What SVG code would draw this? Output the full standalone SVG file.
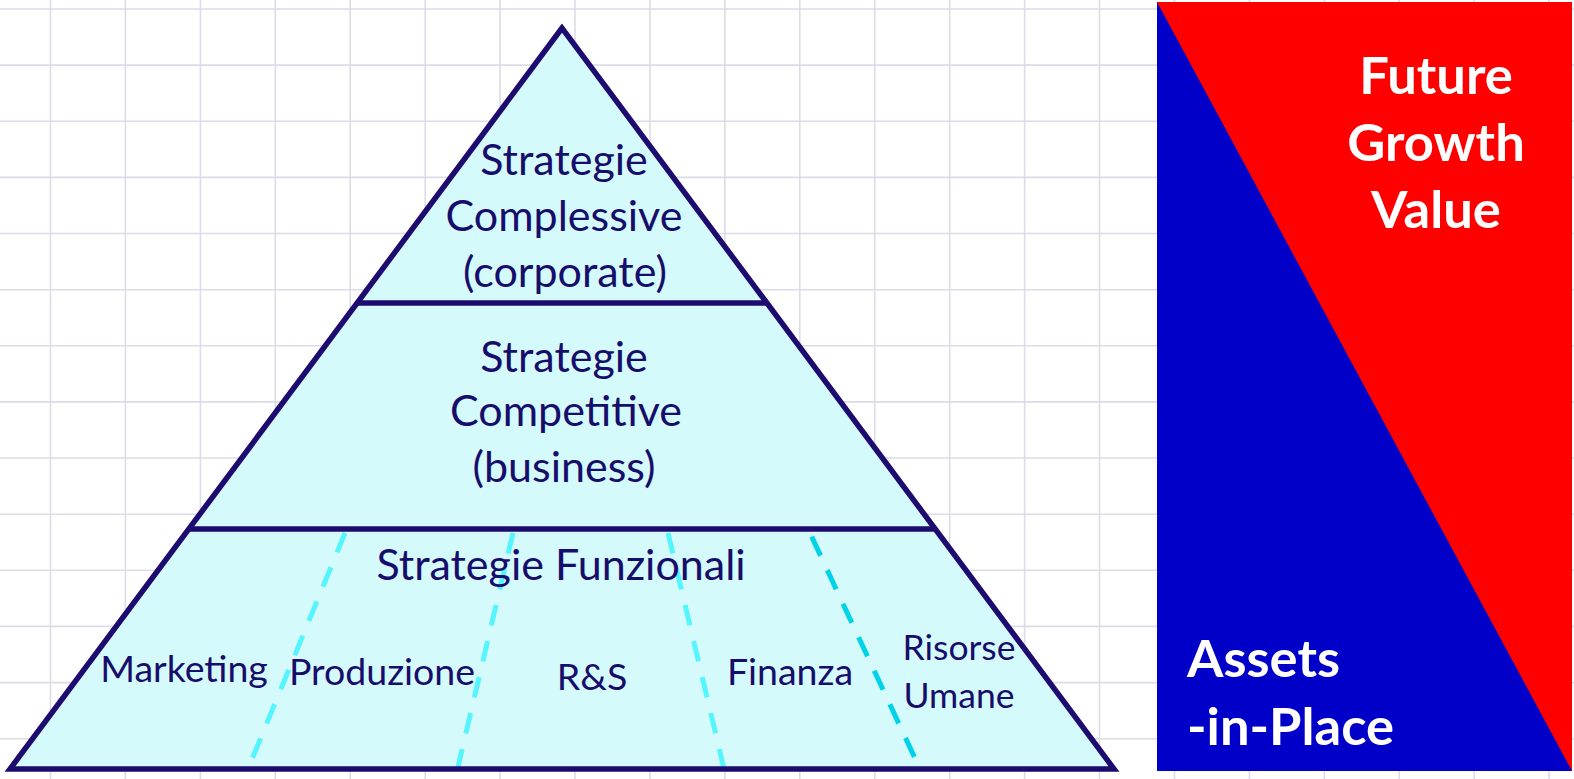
<svg xmlns="http://www.w3.org/2000/svg" width="1574" height="779" viewBox="0 0 1574 779">
<style>
.grid{stroke:#dcdce8;stroke-width:1.6;fill:none}
.tier{fill:#d5fafb;stroke:none}
.edge{stroke:#1e0b70;stroke-width:5.5;fill:none;stroke-linejoin:miter}
.lbl{font-family:Lato,"Liberation Sans",sans-serif;fill:#170d6b;text-anchor:middle}
.big{font-size:43px}
.mid{font-size:37.5px}
.sm{font-size:35.5px}
.dash{stroke-width:5;stroke-dasharray:21 16;fill:none}
.wt{font-family:Lato,"Liberation Sans",sans-serif;font-weight:bold;fill:#ffffff;font-size:52.5px}
</style>
<rect x="0" y="0" width="1574" height="779" fill="#ffffff"/>
<g id="grid">
<path class="grid" d="M50.5 0V779M125.4 0V779M200.4 0V779M275.3 0V779M350.2 0V779M425.2 0V779M500.1 0V779M575 0V779M649.9 0V779M724.9 0V779M799.8 0V779M874.7 0V779M949.7 0V779M1024.6 0V779M1099.5 0V779M1174.5 0V779M1249.4 0V779M1324.3 0V779M1399.2 0V779M1474.2 0V779M1549.1 0V779"/>
<path class="grid" d="M0 9H1574M0 65.1H1574M0 121.3H1574M0 177.4H1574M0 233.5H1574M0 289.7H1574M0 345.8H1574M0 401.9H1574M0 458H1574M0 514.2H1574M0 570.3H1574M0 626.4H1574M0 682.6H1574M0 738.7H1574"/>
</g>
<g id="pyramid-fill">
<polygon class="tier" points="562,28 10,769 1114,769"/>
</g>
<g id="connectors">
<line class="dash" stroke="#55f5ff" x1="345" y1="533" x2="248" y2="769"/>
<line class="dash" stroke="#55f5ff" x1="513" y1="533" x2="457.5" y2="769"/>
<line class="dash" stroke="#55f5ff" x1="668" y1="533" x2="724" y2="769"/>
<line class="dash" stroke="#00d2e8" stroke-dashoffset="-4" x1="810" y1="533" x2="920" y2="769"/>
</g>
<g id="pyramid-outline">
<polygon class="edge" points="562,28 10,769 1114,769"/>
<line class="edge" x1="357" y1="303" x2="767" y2="303"/>
<line class="edge" x1="189" y1="529" x2="935" y2="529"/>
</g>
<g id="tier-corporate">
<text class="lbl big" x="564" y="175">Strategie</text>
<text class="lbl big" x="564" y="231">Complessive</text>
<text class="lbl big" x="565" y="287">(corporate)</text>
</g>
<g id="tier-business">
<text class="lbl big" x="564" y="372">Strategie</text>
<text class="lbl big" x="566" y="426">Competitive</text>
<text class="lbl big" x="564" y="482">(business)</text>
</g>
<g id="tier-functional">
<text class="lbl big" x="561" y="580">Strategie Funzionali</text>
</g>
<g id="marketing"><text class="lbl mid" x="184" y="682">Marketing</text></g>
<g id="produzione"><text class="lbl mid" x="382" y="685">Produzione</text></g>
<g id="rs"><text class="lbl mid" x="592" y="690">R&amp;S</text></g>
<g id="finanza"><text class="lbl mid" x="790" y="685">Finanza</text></g>
<g id="risorse-umane">
<text class="lbl sm" x="959" y="660">Risorse</text>
<text class="lbl sm" x="959" y="708">Umane</text>
</g>
<g id="value-panel">
<rect x="1157" y="2" width="415" height="769" fill="#0000c8"/>
<polygon points="1157,2 1572,2 1572,771" fill="#fe0000"/>
<text class="wt" x="1436" y="94" text-anchor="middle">Future</text>
<text class="wt" x="1436" y="161" text-anchor="middle">Growth</text>
<text class="wt" x="1436" y="228" text-anchor="middle">Value</text>
<text class="wt" x="1187" y="677">Assets</text>
<text class="wt" x="1187" y="745">-in-Place</text>
</g>
</svg>
